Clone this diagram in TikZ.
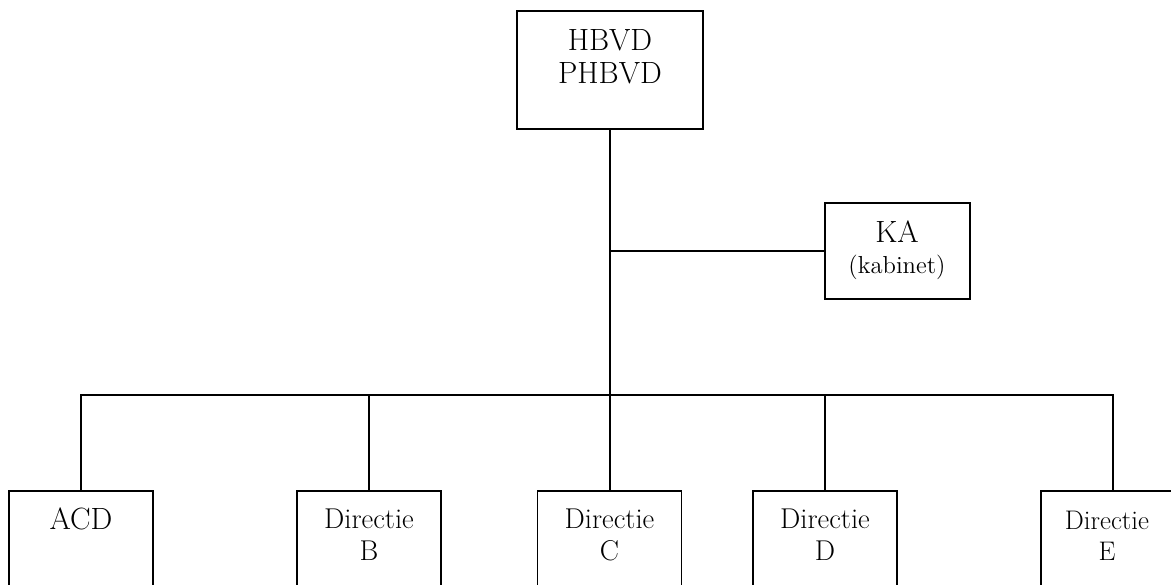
\documentclass[tikz,border=0pt]{standalone}
\usetikzlibrary{positioning}

\tikzset{
  box/.style={shape=rectangle,draw=black,line width=0.7pt,minimum width=2.88cm,minimum height=2.98cm,inner sep=0pt},
  txt/.style={inner sep=0pt,align=center},
  big/.style={font=\fontsize{17.5}{18.6}\selectfont},
  mid/.style={font=\fontsize{16.3}{18.2}\selectfont},
}

\begin{document}
\begin{tikzpicture}[x=0.02cm,y=-0.02cm,line width=0.6pt]
\useasboundingbox (0,0) rectangle (1171,585);
\clip (0,0) rectangle (1171,585);

% boxes
\node[box,minimum width=3.72cm,minimum height=2.36cm] (top) at (610,70) {};
\node[box,minimum width=2.9cm,minimum height=1.92cm] (ka) at (897.5,251) {};
\node[box] (acd) at (81,565.5) {};
\node[box] (b) at (369,565.5) {};
\node[box] (c) at (609.5,565.5) {};
\node[box] (d) at (825,565.5) {};
\node[box] (e) at (1113,565.5) {};

% texts
\node[txt,big,anchor=north] (toptext) at (610,29) {HBVD\\PHBVD};
\node[txt,big,anchor=base] (katext) at (897,242) {KA};
\node[txt,anchor=base,font=\fontsize{14}{15}\selectfont] (kabtext) at (897,273) {(kabinet)};
\node[txt,big,anchor=base] (acdtext) at (81,529) {ACD};
\node[txt,mid,anchor=north] (btext) at (369,508.5) {Directie\\B};
\node[txt,mid,anchor=north] (ctext) at (609.5,508.5) {Directie\\C};
\node[txt,mid,anchor=north] (dtext) at (825,508.5) {Directie\\D};
\node[txt,anchor=north,font=\fontsize{15.3}{17.6}\selectfont] (etext) at (1107,511) {Directie\\E};

% lines
\coordinate (bus) at (610,395);
\draw (top.south) -- (top.south |- c.north);
\draw (top.south |- ka.west) -- (ka.west);
\draw (acd.north) |- (bus) -| (e.north);
\draw (b.north) -- (b.north |- bus);
\draw (d.north) -- (d.north |- bus);
\end{tikzpicture}
\end{document}
